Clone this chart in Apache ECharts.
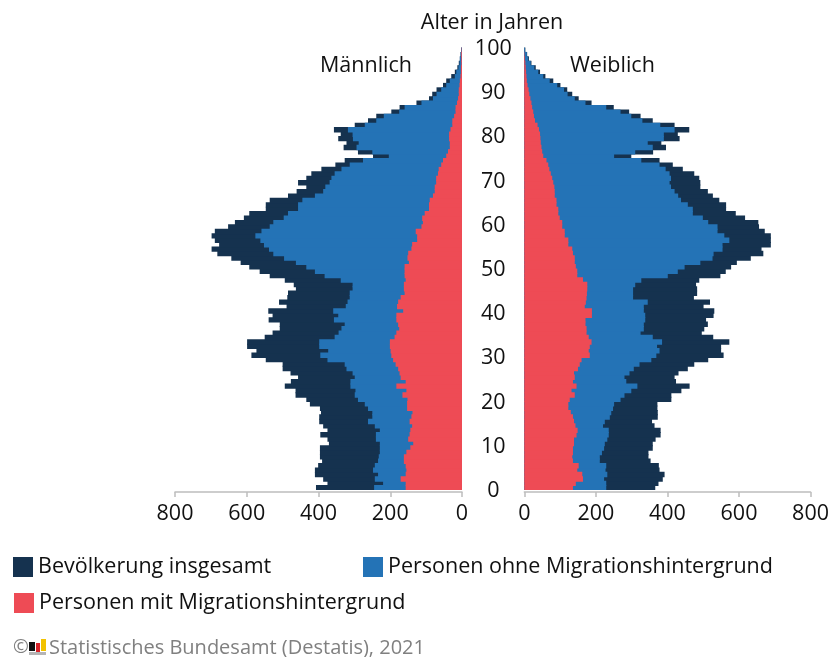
<!DOCTYPE html>
<html>
<head>
<meta charset="utf-8">
<style>html,body{margin:0;padding:0;background:#fff}#c{width:832px;height:657px}</style>
<script src="https://cdn.jsdelivr.net/npm/echarts@6/dist/echarts.min.js"></script>
</head>
<body>
<div id="c"></div>
<script>
const ages = Array.from({length:101},(_, i)=>String(i));
const xTicks = [0,200,400,600,800];
const nameTotal='Bevölkerung insgesamt', nameOhne='Personen ohne Migrationshintergrund', nameMit='Personen mit Migrationshintergrund';
const leftTotal=[
407,375,387,410,410,401,390,396,396,396,
371,375,395,375,387,398,398,393,396,424,
434,464,464,494,477,457,478,500,500,547,
587,573,599,599,550,528,508,508,539,528,
540,489,510,487,485,463,469,494,536,564,
593,617,643,682,698,677,689,698,689,652,
633,608,593,547,547,536,485,461,434,457,
434,420,392,353,327,248,290,330,322,345,
338,357,299,262,239,197,174,127,92,83,
71,53,44,30,20,13,9,6,4,2,
0];
const leftOhne=[
245,220,243,234,248,243,234,232,229,229,
229,240,240,229,243,262,250,250,262,271,
290,299,297,311,311,299,305,322,327,375,
395,373,398,398,355,344,336,327,357,345,
359,324,319,313,313,305,305,338,383,410,
434,463,496,526,538,552,562,576,559,536,
526,497,485,457,457,445,410,387,381,369,
364,355,336,313,276,204,250,294,288,304,
305,318,271,239,218,175,160,113,81,71,
58,44,34,20,16,10,7,6,4,2,
0];
const leftMit=[
157,157,171,157,155,157,162,162,155,144,
136,150,146,144,139,146,141,138,153,153,
152,166,155,183,157,171,174,178,185,192,
197,199,201,201,188,183,175,178,183,183,
164,181,178,171,160,162,162,157,160,160,
160,148,152,150,141,139,125,125,129,113,
109,111,104,92,92,90,81,76,76,72,
72,67,65,58,53,44,39,34,34,36,
36,32,27,27,22,18,18,14,11,9,
9,7,6,4,3,3,2,2,2,1,
0];
const rightTotal=[
366,375,387,392,378,376,353,347,347,359,
359,367,381,381,364,357,373,373,372,372,
411,411,439,462,424,420,431,457,475,514,
557,550,550,573,528,496,503,513,508,529,
531,501,519,474,483,483,480,489,548,563,
578,594,633,668,663,689,689,689,672,656,
654,617,591,564,564,545,527,513,492,492,
489,475,443,415,378,299,360,396,383,434,
429,461,420,359,325,293,250,188,152,134,
120,101,81,59,44,32,20,13,8,3,
0];
const rightOhne=[
229,229,223,232,227,229,211,211,217,223,
225,232,236,236,220,225,239,243,248,251,
269,280,299,316,285,280,294,306,322,355,
369,378,371,385,359,325,334,334,338,338,
334,334,345,304,304,304,310,327,401,429,
448,492,526,529,554,554,573,559,540,540,
514,499,471,471,457,438,430,420,410,406,
410,406,395,378,327,251,310,359,345,390,
390,420,380,330,299,269,229,171,141,121,
111,92,71,53,39,28,18,11,7,2,
0];
const rightMit=[
136,144,164,162,148,152,136,134,136,136,
139,139,146,149,143,139,136,130,123,123,
127,141,132,146,136,141,139,150,155,160,
183,180,183,188,180,174,174,171,171,189,
189,169,172,174,175,176,176,164,148,148,
144,141,141,136,134,123,123,113,113,106,
106,99,95,95,90,90,85,85,84,81,
78,74,70,67,62,53,50,48,46,45,
44,41,37,30,27,25,22,20,17,14,
12,9,7,6,5,4,3,2,1,0,
0];
const colTotal='#15324f', colOhne='#2473b6', colMit='#ee4b55';
const font='"Open Sans"', ink='#111', fs=21.5;

const chart=echarts.init(document.getElementById('c'),null,{renderer:'canvas'});
function bar(name,data,color,idx){
  return {name,type:'bar',xAxisIndex:idx,yAxisIndex:idx,data,barWidth:5.4,barGap:'-100%',
    itemStyle:{color},animation:false,silent:true};
}
function xAxis(gridIndex,inverse){
  return {type:'value',gridIndex,inverse,min:0,max:800,interval:200,offset:2,position:'bottom',
    splitLine:{show:false},
    axisLine:{show:true,lineStyle:{color:'#bdbdbd',width:1.5}},
    axisTick:{show:true,length:5,lineStyle:{color:'#bdbdbd',width:1.5}},
    axisLabel:{color:ink,fontFamily:font,fontSize:fs,margin:11,showMinLabel:true,showMaxLabel:true}};
}
const legendCommon={orient:'horizontal',itemWidth:20,itemHeight:20,itemGap:0,icon:'rect',padding:0,
  selectedMode:false,textStyle:{color:ink,fontFamily:font,fontSize:fs,padding:[0,0,0,0]}};
chart.setOption({
  animation:false,
  backgroundColor:'#fff',
  title:[
    {text:'Alter in Jahren',left:492,top:12,padding:0,textAlign:'center',textStyle:{color:ink,fontFamily:font,fontSize:fs,fontWeight:'normal'}},
    {text:'Männlich',left:320,top:55,padding:0,textStyle:{color:ink,fontFamily:font,fontSize:fs,fontWeight:'normal'}},
    {text:'Weiblich',left:570,top:55,padding:0,textStyle:{color:ink,fontFamily:font,fontSize:fs,fontWeight:'normal'}}
  ],
  legend:[
    Object.assign({},legendCommon,{data:[nameTotal],left:13,top:556}),
    Object.assign({},legendCommon,{data:[nameOhne],left:363,top:556}),
    Object.assign({},legendCommon,{data:[nameMit],left:14,top:592})
  ],
  grid:[
    {left:175,width:287,top:43.6,height:446.4},
    {left:524.3,width:287,top:43.6,height:446.4}
  ],
  xAxis:[xAxis(0,true),xAxis(1,false)],
  yAxis:[
    {type:'category',gridIndex:0,data:ages,position:'right',axisLine:{show:false},axisTick:{show:false},axisLabel:{show:false}},
    {type:'category',gridIndex:1,data:ages,position:'left',axisLine:{show:false},axisTick:{show:false},
      axisLabel:{interval:9,color:ink,fontFamily:font,fontSize:fs,align:'center',margin:31,verticalAlign:'top',lineHeight:6}}
  ],
  series:[
    bar(nameTotal,leftTotal,colTotal,0),
    bar(nameOhne,leftOhne,colOhne,0),
    bar(nameMit,leftMit,colMit,0),
    bar(nameTotal,rightTotal,colTotal,1),
    bar(nameOhne,rightOhne,colOhne,1),
    bar(nameMit,rightMit,colMit,1)
  ],
  graphic:[
    {type:'text',left:13,top:638,style:{text:'©',fill:'#808080',font:'19px "Open Sans"'}},
    {type:'rect',shape:{x:29,y:642,width:6,height:9},style:{fill:'#111'}},
    {type:'rect',shape:{x:36,y:643,width:4,height:9},style:{fill:'#d8232a'}},
    {type:'rect',shape:{x:41,y:639,width:5,height:12},style:{fill:'#f2c200'}},
    {type:'rect',shape:{x:29,y:652,width:17,height:3},style:{fill:'#b5b5b5'}},
    {type:'text',left:49,top:638,style:{text:'Statistisches Bundesamt (Destatis), 2021',fill:'#808080',font:'20px "Open Sans"'}}
  ]
});
</script>
</body>
</html>
